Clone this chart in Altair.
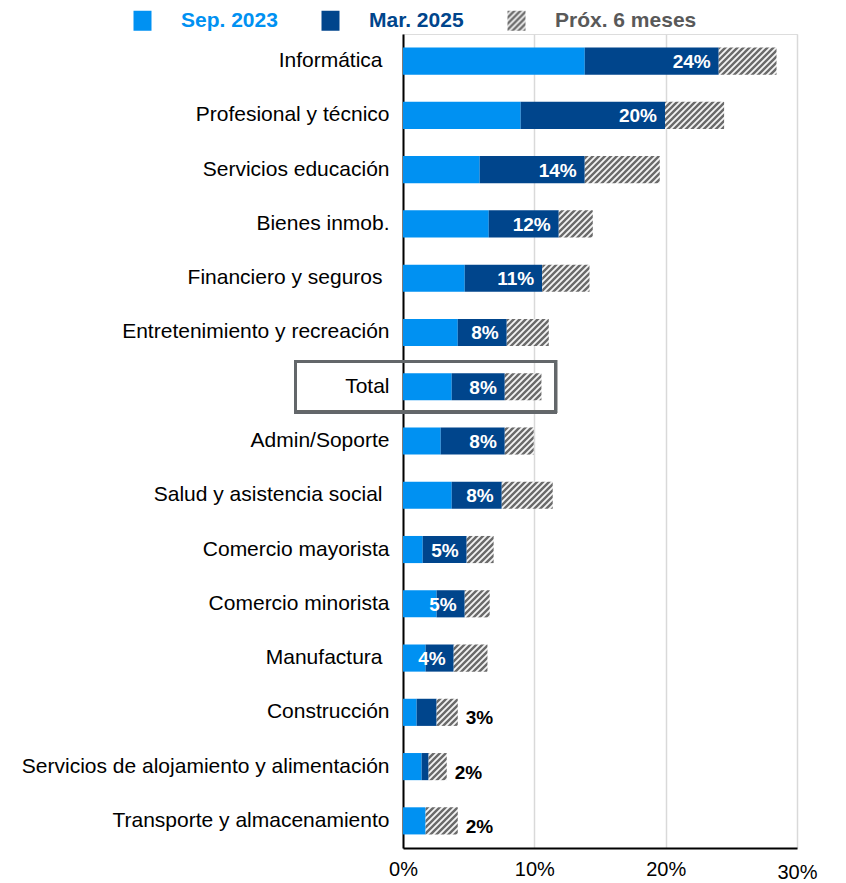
import altair as alt
import pandas as pd
import jinja2

# ---------------- data (percent) ----------------
categories = [
    "Informática",
    "Profesional y técnico",
    "Servicios educación",
    "Bienes inmob.",
    "Financiero y seguros",
    "Entretenimiento y recreación",
    "Total",
    "Admin/Soporte",
    "Salud y asistencia social",
    "Comercio mayorista",
    "Comercio minorista",
    "Manufactura",
    "Construcción",
    "Servicios de alojamiento y alimentación",
    "Transporte y almacenamiento",
]
# labels that carry a trailing space in the original
spaced_labels = ["Informática", "Financiero y seguros", "Salud y asistencia social", "Manufactura"]

sep2023 = [13.84, 8.96, 5.84, 6.53, 4.70, 4.17, 3.71, 2.87, 3.71, 1.50, 2.56, 1.72, 1.04, 1.42, 1.72]
mar2025 = [24.04, 19.95, 13.84, 11.86, 10.60, 7.90, 7.75, 7.75, 7.52, 4.85, 4.70, 3.86, 2.56, 1.95, 1.72]
prox6m = [28.44, 24.45, 19.55, 14.45, 14.20, 11.10, 10.54, 9.95, 11.40, 6.90, 6.60, 6.43, 4.17, 3.33, 4.17]

series = ["Sep. 2023", "Mar. 2025", "Próx. 6 meses"]
series_colors = ["#0091F2", "#00458C", "url(#hatch)"]
x_ticks = [0, 10, 20, 30]
highlight = "Total"
box_from, box_to = -8.17, 11.63

# ---------------- tables ----------------
rows = []
for c, a, b, n in zip(categories, sep2023, mar2025, prox6m):
    rows.append({"cat": c, "serie": series[0], "start": 0.0, "end": a, "order": 0})
    rows.append({"cat": c, "serie": series[1], "start": a, "end": b, "order": 1})
    rows.append({"cat": c, "serie": series[2], "start": b, "end": n, "order": 2})
bars_df = pd.DataFrame(rows)
labels_df = pd.DataFrame({"cat": categories, "mar": mar2025, "prox": prox6m})

FONT = "Liberation Sans"
spaced_js = "[" + ",".join("'" + s + "'" for s in spaced_labels) + "]"

y_enc = alt.Y(
    "cat:N",
    sort=categories,
    scale=alt.Scale(paddingInner=0.5, paddingOuter=0.25),
    axis=alt.Axis(
        title=None, ticks=False, domain=True, domainColor="#000000", domainWidth=2,
        labelFontSize=21, labelColor="#000000", labelFont=FONT, labelLimit=500,
        labelPadding=alt.ExprRef("indexof(" + spaced_js + ", datum.value) >= 0 ? 21 : 14"),
    ),
)
x_scale = alt.Scale(domain=[0, 30], nice=False)

bars = alt.Chart(bars_df).mark_bar().encode(
    y=y_enc,
    x=alt.X(
        "start:Q",
        scale=x_scale,
        axis=alt.Axis(
            title=None, values=x_ticks, ticks=False, domain=True, domainColor="#000000",
            domainWidth=2, grid=True, gridColor="#D9D9D9", gridWidth=1.5,
            labelExpr="datum.value + '%'", labelFontSize=20, labelColor="#000000",
            labelFont=FONT, labelFlush=False, labelOverlap=False,
            labelPadding=alt.ExprRef("datum.value == 30 ? 14 : 11"),
        ),
    ),
    x2="end:Q",
    color=alt.Color(
        "serie:N",
        scale=alt.Scale(domain=series, range=series_colors),
        legend=alt.Legend(
            title=None, orient="none", direction="horizontal", columns=3,
            legendX=-271, legendY=-24, padding=0,
            symbolType="M-0.9,-1H0.9V1H-0.9Z", symbolSize=400, symbolStrokeWidth=0,
            symbolOpacity=1,
            labelFontSize=21, labelFontWeight="bold", labelFont=FONT,
            labelOffset=28, columnPadding=42,
            labelColor=alt.ExprRef(
                "datum.label == 'Sep. 2023' ? '#0091F2' : (datum.label == 'Mar. 2025' ? '#00458C' : '#595959')"
            ),
        ),
    ),
    order=alt.Order("order:Q"),
)

box = alt.Chart(labels_df).mark_bar(
    height={"band": 1.87}, fillOpacity=0, stroke="#63676A", strokeWidth=2.6,
).encode(
    y=alt.YDatum(highlight, type="nominal"),
    x=alt.XDatum(box_from, type="quantitative"),
    x2=alt.X2Datum(box_to),
)

base_text = alt.Chart(labels_df).transform_calculate(
    txt="format(datum.mar, '.0f') + '%'"
)

inside = base_text.transform_filter("datum.mar >= 3.5").mark_text(
    align="right", baseline="middle", dx=-8, dy=1, fontSize=19, fontWeight="bold",
    color="#FFFFFF", font=FONT,
).encode(y=alt.Y("cat:N", sort=categories), x=alt.X("mar:Q"), text="txt:N")

outside = base_text.transform_filter("datum.mar < 3.5").mark_text(
    align="left", baseline="middle", dx=8, dy=6, fontSize=19, fontWeight="bold",
    color="#000000", font=FONT,
).encode(y=alt.Y("cat:N", sort=categories), x=alt.X("prox:Q"), text="txt:N")

chart = (
    alt.layer(bars, box, inside, outside)
    .properties(
        width=394, height=814,
        autosize=alt.AutoSizeParams(type="none"),
        padding={"left": 395, "top": 26, "right": 30, "bottom": 34},
    )
    .configure_view(stroke=None)
    .configure(background="#FFFFFF")
)

TEMPLATE = jinja2.Template("""<!DOCTYPE html>
<html>
<head>
  <style>
    #{{ output_div }}.vega-embed { width: 100%; display: flex; }
    #{{ output_div }}.vega-embed details,
    #{{ output_div }}.vega-embed details summary { position: relative; }
  </style>
  <script type="text/javascript" src="{{ base_url }}/vega@{{ vega_version }}"></script>
  <script type="text/javascript" src="{{ base_url }}/vega-lite@{{ vegalite_version }}"></script>
  <script type="text/javascript" src="{{ base_url }}/vega-embed@{{ vegaembed_version }}"></script>
</head>
<body>
  <svg width="0" height="0" style="position:absolute;left:0;top:0" aria-hidden="true">
    <defs>
      <pattern id="hatch" patternUnits="userSpaceOnUse" width="6" height="6">
        <rect x="0" y="0" width="6" height="6" fill="#F4F4F4"/>
        <path d="M-1.5,1.5 L1.5,-1.5 M0,6 L6,0 M4.5,7.5 L7.5,4.5" stroke="#6A6A6A" stroke-width="2.4"/>
      </pattern>
    </defs>
  </svg>
  <div id="{{ output_div }}"></div>
  <script>
    (function(vegaEmbed) {
      var spec = {{ spec }};
      var embedOpt = {{ embed_options }};
      function showError(el, error){
          el.innerHTML = ('<div style="color:red;"><p>JavaScript Error: ' + error.message + '</p></div>');
          throw error;
      }
      const el = document.getElementById('{{ output_div }}');
      vegaEmbed("#{{ output_div }}", spec, embedOpt).catch(error => showError(el, error));
    })(vegaEmbed);
  </script>
</body>
</html>
""")

chart.save("out.html", embed_options={"renderer": "svg", "actions": False}, template=TEMPLATE)
